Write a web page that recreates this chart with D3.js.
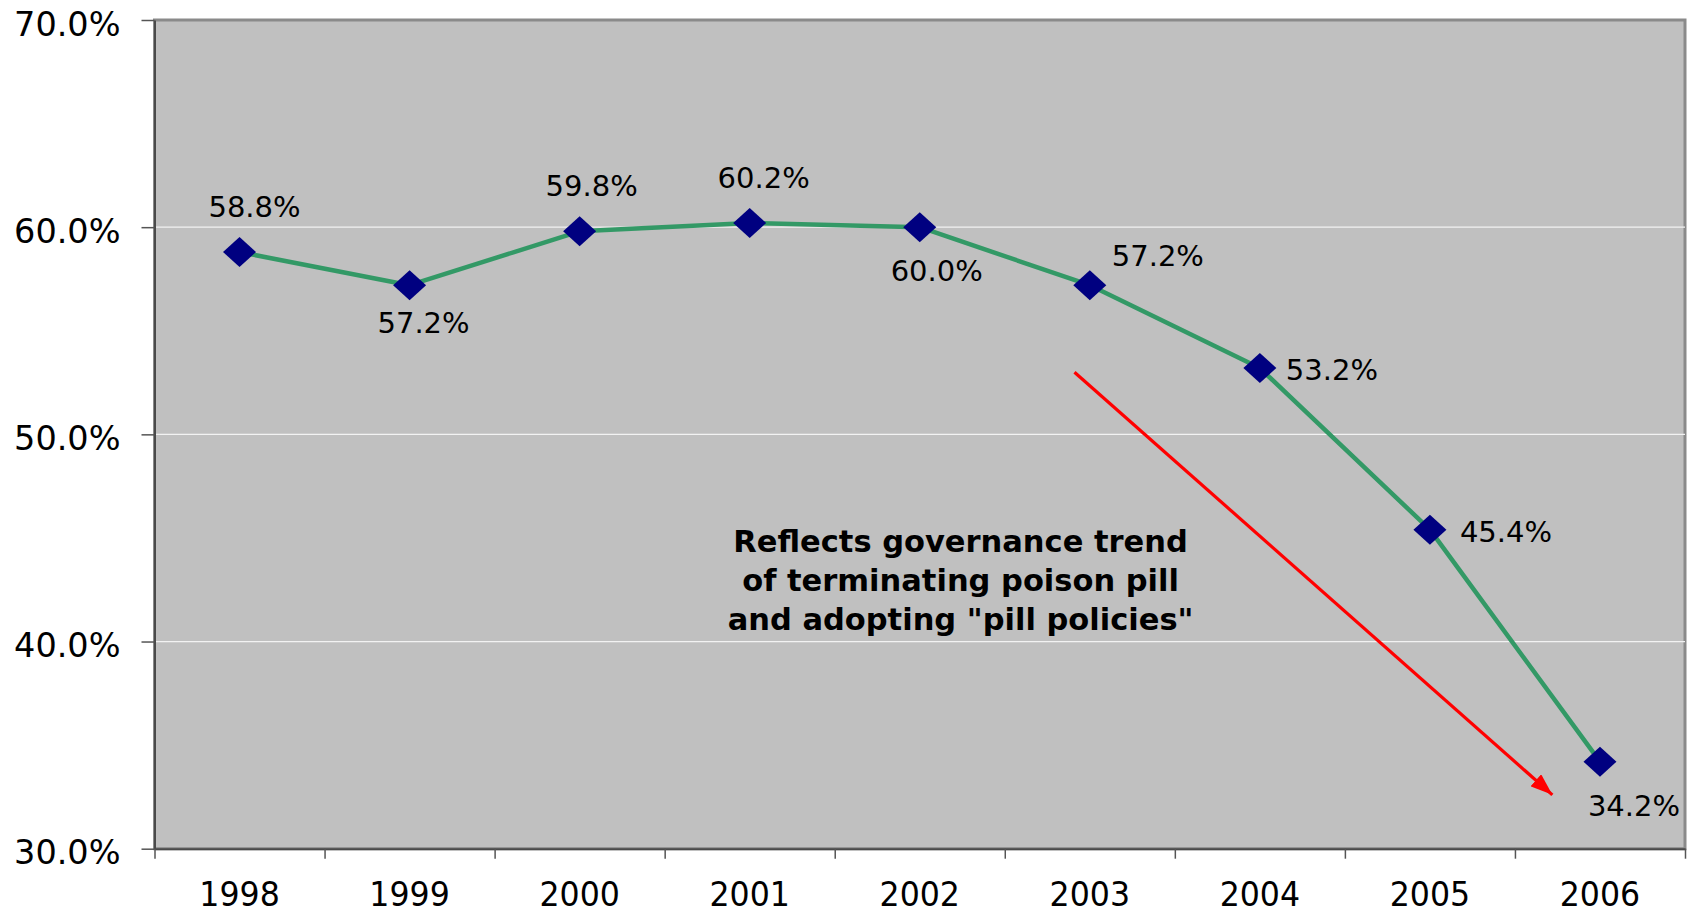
<!DOCTYPE html>
<html>
<head>
<meta charset="utf-8">
<script src="https://cdn.jsdelivr.net/npm/d3@7"></script>
<style>
  html, body { margin: 0; padding: 0; background: #fff; }
  svg { display: block; font-family: "DejaVu Sans", Verdana, sans-serif; }
</style>
</head>
<body>
<svg id="chart" width="1698" height="916"></svg>
<script>
// Share of companies with a poison pill in place, by year
const years = ["1998", "1999", "2000", "2001", "2002", "2003", "2004", "2005", "2006"];
const shares = [58.8, 57.2, 59.8, 60.2, 60.0, 57.2, 53.2, 45.4, 34.2];

const yTickValues = [30, 40, 50, 60, 70];
const yTickLabels = ["30.0%", "40.0%", "50.0%", "60.0%", "70.0%"];
const gridValues = [40, 50, 60];

const noteLines = [
  "Reflects governance trend",
  "of terminating poison pill",
  "and adopting \"pill policies\""
];

// Value-label placement around each marker: [text-anchor, dx, dy of baseline]
const labelLayout = [
  ["middle", 15, -35], ["middle", 14, 48], ["middle", 12, -35],
  ["middle", 14, -35], ["middle", 17, 54], ["start", 22, -19],
  ["start", 26, 12], ["start", 30, 12], ["middle", 34, 54]
];

// Trend arrow, in (year index, percent) units
const arrowFrom = [4.91, 53.0];
const arrowTo = [7.72, 32.6];
// Note centre (baseline of middle line), in (year index, percent) units
const noteAnchor = [4.24, 42.45];

const svg = d3.select("#chart");
const plot = { left: 154.5, right: 1685, top: 20, bottom: 848.7 };
const FONT = "DejaVu Sans, Verdana, sans-serif";

const x = d3.scaleBand().domain(years).range([plot.left, plot.right]).padding(0);
const xi = d3.scaleLinear().domain([-0.5, years.length - 0.5]).range([plot.left, plot.right]);
const y = d3.scaleLinear().domain([30, 70]).range([plot.bottom, plot.top]);

// Plot area
svg.append("rect")
  .attr("x", plot.left).attr("y", plot.top)
  .attr("width", plot.right - plot.left).attr("height", plot.bottom - plot.top)
  .attr("fill", "#c0c0c0")
  .attr("stroke", "#8a8a8a").attr("stroke-width", 3);

// Gridlines
svg.append("g").selectAll("line").data(gridValues).join("line")
  .attr("x1", plot.left).attr("x2", plot.right)
  .attr("y1", d => y(d)).attr("y2", d => y(d))
  .attr("stroke", "#f2f2f2").attr("stroke-width", 1.3);

// Y axis
const yAxis = svg.append("g")
  .attr("transform", `translate(${plot.left},0)`)
  .call(d3.axisLeft(y).tickValues(yTickValues)
    .tickFormat((d, i) => yTickLabels[i]).tickSize(13).tickSizeOuter(0));
yAxis.select(".domain").attr("stroke", "#4a4a4a").attr("stroke-width", 2);
yAxis.selectAll(".tick line").attr("stroke", "#555").attr("stroke-width", 1.5);
yAxis.selectAll(".tick text")
  .attr("x", 0).attr("y", 0).attr("dy", null)
  .attr("transform", "translate(-34,15)")
  .attr("font-size", 33.5).attr("fill", "#000")
  .attr("font-family", FONT);

// X axis: tick marks between categories
const xTicks = svg.append("g")
  .attr("transform", `translate(0,${plot.bottom})`)
  .call(d3.axisBottom(xi).tickValues(d3.range(-0.5, years.length, 1))
    .tickFormat("").tickSize(10).tickSizeOuter(0));
xTicks.select(".domain").attr("stroke", "#4a4a4a").attr("stroke-width", 2);
xTicks.selectAll(".tick line").attr("stroke", "#555").attr("stroke-width", 1.5);

// X axis: year labels centred on categories
const xLabels = svg.append("g")
  .attr("transform", `translate(0,${plot.bottom})`)
  .call(d3.axisBottom(x).tickSize(0));
xLabels.select(".domain").remove();
xLabels.selectAll(".tick text")
  .attr("x", 0).attr("y", 0).attr("dy", null)
  .attr("transform", "translate(0,57) scale(0.93,1)")
  .attr("font-size", 34).attr("fill", "#000")
  .attr("font-family", FONT);

const cx = (d, i) => x(years[i]) + x.bandwidth() / 2;

// Series line
const line = d3.line()
  .x((d, i) => cx(d, i))
  .y(d => y(d));
svg.append("path")
  .datum(shares)
  .attr("d", line)
  .attr("fill", "none")
  .attr("stroke", "#339966")
  .attr("stroke-width", 4.5)
  .attr("stroke-linejoin", "round");

// Diamond markers
const hw = 16.5, hh = 15;
svg.append("g").selectAll("path").data(shares).join("path")
  .attr("transform", (d, i) => `translate(${cx(d, i)},${y(d)})`)
  .attr("d", `M0,${-hh}L${hw},0L0,${hh}L${-hw},0Z`)
  .attr("fill", "#000080");

// Value labels
svg.append("g").selectAll("text").data(shares).join("text")
  .attr("x", (d, i) => cx(d, i) + labelLayout[i][1])
  .attr("y", (d, i) => y(d) + labelLayout[i][2])
  .attr("text-anchor", (d, i) => labelLayout[i][0])
  .attr("font-size", 29)
  .attr("fill", "#000")
  .text(d => d.toFixed(1) + "%");

// Trend arrow
svg.append("defs").append("marker")
  .attr("id", "arrowhead")
  .attr("markerUnits", "userSpaceOnUse")
  .attr("viewBox", "0 0 22 16")
  .attr("refX", 22).attr("refY", 8)
  .attr("markerWidth", 22).attr("markerHeight", 16)
  .attr("orient", "auto")
  .append("path")
  .attr("d", "M0,0L22,8L0,16Z")
  .attr("fill", "#ff0000");

svg.append("line")
  .attr("x1", xi(arrowFrom[0])).attr("y1", y(arrowFrom[1]))
  .attr("x2", xi(arrowTo[0])).attr("y2", y(arrowTo[1]))
  .attr("stroke", "#ff0000")
  .attr("stroke-width", 3.2)
  .attr("marker-end", "url(#arrowhead)");

// Note text
const noteX = xi(noteAnchor[0]);
const noteY = y(noteAnchor[1]);
svg.append("g").selectAll("text").data(noteLines).join("text")
  .attr("x", noteX)
  .attr("y", (d, i) => noteY + (i - 1) * 39)
  .attr("text-anchor", "middle")
  .attr("font-size", 30.5)
  .attr("font-weight", "bold")
  .attr("fill", "#000")
  .text(d => d);
</script>
</body>
</html>
